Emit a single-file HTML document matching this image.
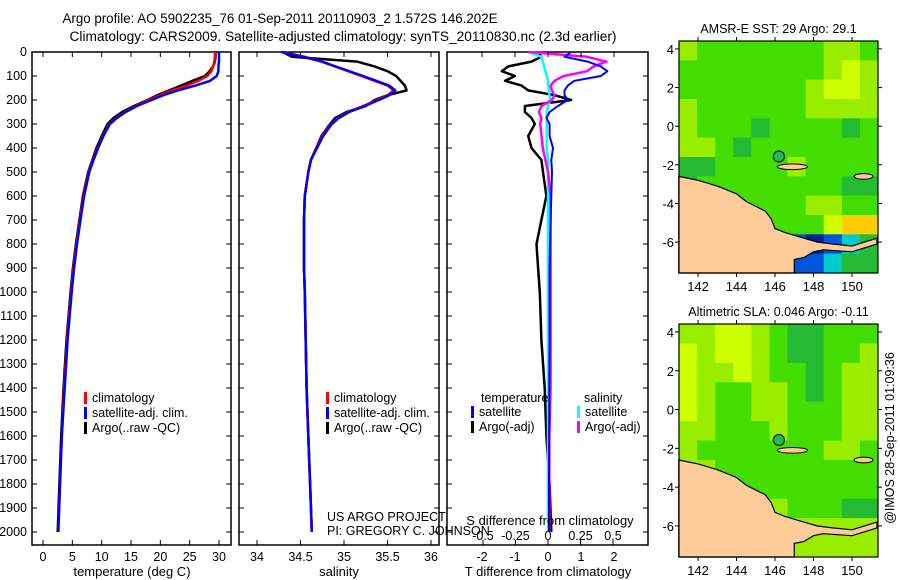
<!DOCTYPE html>
<html><head><meta charset="utf-8"><style>
html,body{margin:0;padding:0;background:#fff;}
svg{display:block;font-family:"Liberation Sans",sans-serif;}
text{font-size:12.5px;fill:#000;}
</style></head><body>
<svg id="chart" width="900" height="580" viewBox="0 0 900 580">
<text x="280" y="23" text-anchor="middle" style="font-size:13.5px" textLength="435" lengthAdjust="spacingAndGlyphs">Argo profile: AO 5902235_76 01-Sep-2011 20110903_2 1.572S 146.202E</text>
<text x="343" y="41" text-anchor="middle" style="font-size:13.5px" textLength="547" lengthAdjust="spacingAndGlyphs">Climatology: CARS2009. Satellite-adjusted climatology: synTS_20110830.nc (2.3d earlier)</text>
<g id="g"></g>
</svg>
<script>
const depths=[0,20,40,60,80,100,120,140,160,180,200,225,250,275,300,350,400,450,500,600,700,800,900,1000,1200,1400,1600,1800,2000];
const tArgo=[29.4,29.4,29.3,29.0,28.4,27.6,25.5,23.5,21.5,19.5,17.8,15.5,13.5,12.0,11.0,10.0,9.1,8.4,7.7,6.8,6.2,5.6,5.1,4.7,4.0,3.5,3.1,2.8,2.5];
const tClim=[29.3,29.3,29.2,29.0,28.7,28.0,26.5,24.5,22.0,20.0,18.0,15.8,14.0,12.5,11.3,10.2,9.3,8.5,7.8,6.9,6.3,5.7,5.2,4.8,4.1,3.6,3.2,2.9,2.6];
const tSat=[30.0,30.0,30.0,29.9,29.9,29.6,28.5,26.0,23.0,20.5,18.5,16.0,14.1,12.6,11.4,10.3,9.4,8.6,7.9,7.0,6.4,5.8,5.3,4.9,4.2,3.7,3.2,2.9,2.6];
const sArgo=[34.3,34.4,35.15,35.35,35.5,35.6,35.65,35.7,35.72,35.5,35.35,35.25,35.03,34.9,34.84,34.74,34.68,34.62,34.59,34.55,34.54,34.54,34.54,34.55,34.56,34.57,34.59,34.61,34.63];
const sClim=[34.3,34.55,34.75,34.9,35.05,35.2,35.35,35.5,35.57,35.5,35.38,35.22,35.05,34.93,34.85,34.75,34.68,34.62,34.59,34.55,34.54,34.54,34.54,34.55,34.56,34.57,34.59,34.61,34.63];
const sSat=[34.28,34.53,34.74,34.9,35.06,35.22,35.37,35.52,35.59,35.52,35.4,35.24,35.06,34.94,34.86,34.76,34.69,34.62,34.59,34.55,34.54,34.54,34.54,34.55,34.56,34.57,34.59,34.61,34.63];
const dTArgo=[-0.3,-0.2,-0.5,-1.2,-1.4,-1.0,-1.3,-0.8,-0.6,0.2,0.7,-0.7,-0.7,-0.5,-0.4,-0.6,-0.5,-0.2,-0.15,-0.05,-0.2,-0.35,-0.3,-0.25,-0.2,-0.1,-0.05,0.05,0.1];
const dTSat=[0.7,0.5,1.2,1.6,1.8,1.6,0.8,0.6,0.5,0.5,0.6,0.3,0.05,-0.05,0.05,0.05,0.15,0.1,0.12,0.1,0.08,0.06,0.05,0.05,0.05,0.04,0.04,0.03,0.03];
const dSArgo=[-0.15,0.3,0.45,0.35,0.3,0.12,0.05,0.02,0.03,0.05,0.03,-0.05,-0.07,-0.05,-0.06,-0.05,-0.04,-0.02,0,0.02,0.02,0.02,0.02,0.02,0.02,0.02,0.01,0.01,0.01];
const dSSat=[-0.15,-0.05,-0.04,-0.03,-0.02,-0.01,0,0,0.01,0.01,0.02,0,-0.01,-0.01,-0.01,-0.01,-0.01,0,0,0,0,0,0,0,0,0,0,0,0];
const depthTicks=[0,100,200,300,400,500,600,700,800,900,1000,1100,1200,1300,1400,1500,1600,1700,1800,1900,2000];
const tTicks=[0,5,10,15,20,25,30];
const sTicks=[34,34.5,35,35.5,36];
const dTTicks=[-2,-1,0,1,2];
const dSTicks=[-0.5,-0.25,0,0.25,0.5];
const dSLabels=["-0.5","-0.25","0","0.25","0.5"];
const latTicks=[4,2,0,-2,-4,-6];
const lonTicks=[142,144,146,148,150];
const sstGrid=["agggggggaag","ggggggggaya","gggggggayya","aggggggaaaa","agggdggggdg","aagdggggggg","ddggggagggg","dggggggggdd","gggggggaagg","ggggggggyoo","ggggcbbkbcd","gggggcbbcdd"];
const slaGrid=["aayyagddggg","yayyagddgga","yaayaggdgaa","yaggaagdgaa","yaggaagggaa","aagggagggaa","agggggggaag","aaggggggggg","aaagggggggg","aaaggagggdd","aaagggaaaaa","aaagaaaaaaa"];
const landLon=[141,142,143,144,144.5,145.5,145.8,146,146.5,147.5,148.2,149,150,151.3,151.3,150,148.5,148,147.5,147,147,141];
const landLat=[-2.6,-2.8,-3.1,-3.5,-3.9,-4.4,-4.8,-5.3,-5.5,-5.8,-6.0,-6.1,-6.2,-5.8,-6.1,-6.5,-6.4,-6.5,-6.8,-6.9,-7.6,-7.6];
const argoLon=146.2, argoLat=-1.57;

const NS="http://www.w3.org/2000/svg";
const G=document.getElementById('g');
function el(tag,attrs,parent){const e=document.createElementNS(NS,tag);for(const k in attrs)e.setAttribute(k,attrs[k]);(parent||G).appendChild(e);return e;}
const yD=d=>52+d*0.24;
const xT=t=>43+t*5.867;
const xS=s=>257+(s-34)*87;
const xDT=t=>548+t*33;
const xDS=s=>548+s*130;

function frame(x0,x1,name){
  const r=el('rect',{x:x0,y:52,width:x1-x0,height:493,fill:'none',stroke:'#000','stroke-width':1.5});
  
  
  depthTicks.forEach(d=>{
    el('line',{x1:x0,x2:x0+5,y1:yD(d),y2:yD(d),stroke:'#000'});
    el('line',{x1:x1-5,x2:x1,y1:yD(d),y2:yD(d),stroke:'#000'});
  });
}
function line(xs,xf,color,name,w){
  const pts=depths.map((d,i)=>xf(xs[i]).toFixed(1)+','+yD(d).toFixed(1)).join(' ');
  const p=el('polyline',{points:pts,fill:'none',stroke:color,'stroke-width':w||2.5,'stroke-linejoin':'round'});
  
  
}
function txt(x,y,s,anchor,name,size){
  const t=el('text',{x:x,y:y,'text-anchor':anchor||'start'});
  if(size)t.style.fontSize=size+'px';
  t.textContent=s;
  
  
  return t;
}
frame(32,231,'temperature-panel');
depthTicks.forEach(d=>txt(27,yD(d)+4,String(d),'end','depth-tick-label'));
tTicks.forEach(t=>{el('line',{x1:xT(t),x2:xT(t),y1:545,y2:540,stroke:'#000'});el('line',{x1:xT(t),x2:xT(t),y1:52,y2:57,stroke:'#000'});txt(xT(t),561,String(t),'middle','temperature-tick-label');});
txt(132,576,'temperature (deg C)','middle','temperature-axis-title',13);
line(tArgo,xT,'#000','argo-temperature-line');
line(tClim,xT,'#f00','climatology-temperature-line');
line(tSat,xT,'#00f','satellite-temperature-line');
frame(239,439,'salinity-panel');
sTicks.forEach(s=>{el('line',{x1:xS(s),x2:xS(s),y1:545,y2:540,stroke:'#000'});el('line',{x1:xS(s),x2:xS(s),y1:52,y2:57,stroke:'#000'});txt(xS(s),561,String(s),'middle','salinity-tick-label');});
txt(339,576,'salinity','middle','salinity-axis-title',13);
line(sArgo,xS,'#000','argo-salinity-line');
line(sClim,xS,'#f00','climatology-salinity-line');
line(sSat,xS,'#00f','satellite-salinity-line');
function legend(x,y,color,label){
  const b=el('rect',{x:x,y:y-10,width:3,height:12,fill:color});
  
  
  txt(x+8,y,label,'start','legend-entry');
}
[[84,'#f00','climatology'],[84,'#00f','satellite-adj. clim.'],[84,'#000','Argo(..raw -QC)']].forEach((a,i)=>legend(a[0],402+i*15,a[1],a[2]));
[[326,'#f00','climatology'],[326,'#00f','satellite-adj. clim.'],[326,'#000','Argo(..raw -QC)']].forEach((a,i)=>legend(a[0],402+i*15,a[1],a[2]));
txt(327,521,'US ARGO PROJECT','start','credit-project');
txt(327,535,'PI: GREGORY C. JOHNSON','start','credit-pi');
frame(447,648,'difference-panel');
el('line',{x1:548,x2:548,y1:280,y2:500,stroke:'#000','stroke-dasharray':'1,3'});
line(dTArgo,xDT,'#000','argo-temperature-difference-line');
line(dSSat,xDS,'#0ff','satellite-salinity-difference-line');
line(dSArgo,xDS,'#f0f','argo-salinity-difference-line');
line(dTSat,xDT,'#00f','satellite-temperature-difference-line',2);
dTTicks.forEach(t=>{el('line',{x1:xDT(t),x2:xDT(t),y1:52,y2:57,stroke:'#000'});txt(xDT(t),561,String(t),'middle','temperature-difference-tick-label');});
dSTicks.forEach((s,i)=>{el('line',{x1:xDS(s),x2:xDS(s),y1:545,y2:540,stroke:'#000'});txt(xDS(s),540,dSLabels[i],'middle','salinity-difference-tick-label');});
txt(550,525,'S difference from climatology','middle','salinity-difference-axis-title',13);
txt(548,576,'T difference from climatology','middle','temperature-difference-axis-title',13);
txt(481,402,'temperature','start','legend-heading-temperature');
legend(471,416,'#00f','satellite');legend(471,431,'#000','Argo(-adj)');
txt(584,402,'salinity','start','legend-heading-salinity');
legend(577,416,'#0ff','satellite');legend(577,431,'#f0f','Argo(-adj)');
const COL={a:'#99ee00',g:'#44dd00',d:'#22bb33',y:'#ccff00',o:'#ffcc00',c:'#00cccc',b:'#0055dd',k:'#002299'};
function map(top,bottom,grid,title,name){
  const L=679,R=878,lon0=141.01,lon1=151.35,lat0=4.41,lat1=-7.6;
  const xm=lo=>L+(lo-lon0)*(R-L)/(lon1-lon0);
  const ym=la=>top+(lat0-la)*(bottom-top)/(lat0-lat1);
  const gg=el('g',{});
  
  
  el('rect',{x:L,y:top,width:R-L,height:bottom-top,fill:'#44dd00'},gg);
  grid.forEach((row,r)=>{
    const nc=row.length, cw=(R-L)/nc, ch=(bottom-top)/grid.length;
    for(let c=0;c<nc;c++){
      const cell=el('rect',{x:L+c*cw,y:top+r*ch,width:cw+0.5,height:ch+0.5,fill:COL[row[c]]},gg);
      
      
    }
  });
  const pts=landLon.map((lo,i)=>xm(lo).toFixed(1)+','+ym(landLat[i]).toFixed(1)).join(' ');
  const land=el('polygon',{points:pts,fill:'#ffcc99',stroke:'#000','stroke-width':1.2},gg);
  
  
  [[146.9,-2.1,0.8,0.15],[150.6,-2.6,0.5,0.15]].forEach(a=>{
    const isl=el('ellipse',{cx:xm(a[0]),cy:ym(a[1]),rx:a[2]*19,ry:a[3]*19,fill:'#ffcc99',stroke:'#000'},gg);
    
    
  });
  const m=el('circle',{cx:xm(argoLon),cy:ym(argoLat),r:5.5,fill:'#22bb55',stroke:'#000','stroke-width':1},gg);
  
  
  el('rect',{x:L,y:top,width:R-L,height:bottom-top,fill:'none',stroke:'#000','stroke-width':1.2},gg);
  latTicks.forEach(la=>{el('line',{x1:L,x2:L-4,y1:ym(la),y2:ym(la),stroke:'#000'});el('line',{x1:R,x2:R+4,y1:ym(la),y2:ym(la),stroke:'#000'});txt(L-5,ym(la)+5,String(la),'end','latitude-tick-label',13);});
  lonTicks.forEach(lo=>{el('line',{x1:xm(lo),x2:xm(lo),y1:top,y2:top-4,stroke:'#000'});el('line',{x1:xm(lo),x2:xm(lo),y1:bottom,y2:bottom+4,stroke:'#000'});txt(xm(lo),bottom+18,String(lo),'middle','longitude-tick-label',13);});
  txt((L+R)/2,top-8,title,'middle','map-title');
}
map(41,273,sstGrid,'AMSR-E SST: 29 Argo: 29.1','sst-map');
map(324,557,slaGrid,'Altimetric SLA: 0.046 Argo: -0.11','sla-map');
const st=txt(0,0,'@IMOS 28-Sep-2011 01:09:36','middle','timestamp',12.5);
st.setAttribute('transform','translate(894,438) rotate(-90)');
</script>
</body></html>
